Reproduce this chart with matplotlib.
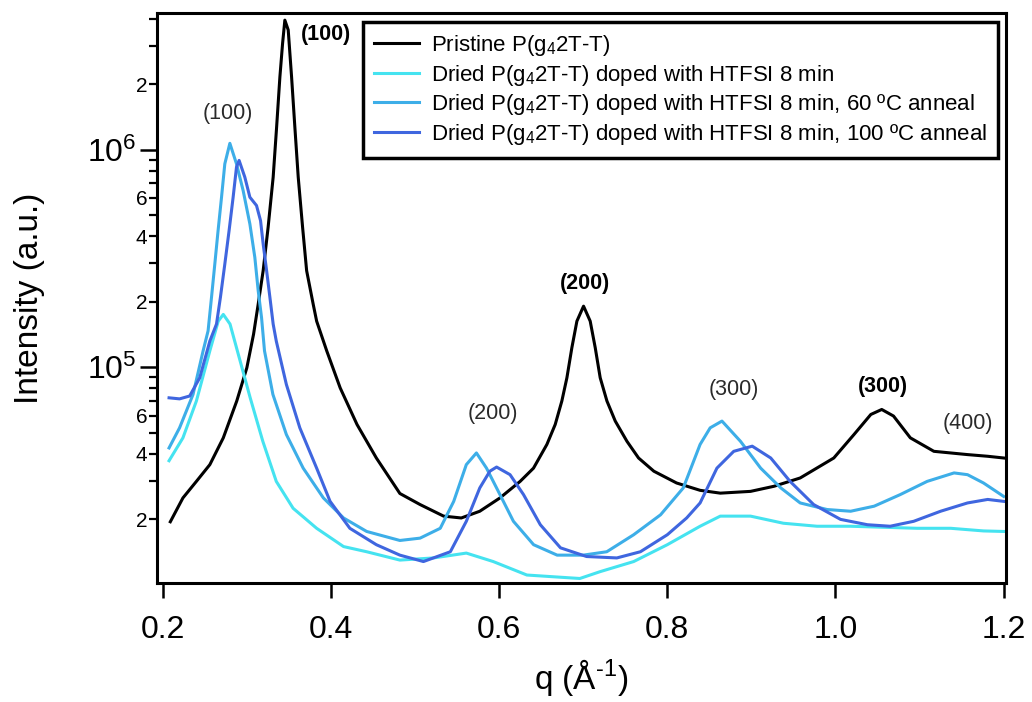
"""GIWAXS out-of-plane line cuts of P(g42T-T), pristine vs HTFSI-doped."""

import matplotlib

matplotlib.use("Agg")
import matplotlib.pyplot as plt
from matplotlib.ticker import FuncFormatter, LogLocator, FixedLocator

# ── data ─────────────────────────────────────────────────────────────────────
q_pristine = [0.209, 0.224, 0.240, 0.256, 0.272, 0.288, 0.300, 0.308, 0.3135, 0.3194,
              0.3253, 0.3313, 0.3354, 0.3393, 0.3425, 0.3452, 0.3492, 0.3532, 0.3571, 0.3611,
              0.3663, 0.3711, 0.3789, 0.383, 0.395, 0.411, 0.431, 0.454, 0.482, 0.506,
              0.534, 0.555, 0.577, 0.601, 0.625, 0.6409, 0.6568, 0.6667, 0.6746, 0.6806,
              0.6865, 0.6925, 0.7004, 0.7083, 0.7143, 0.7202, 0.7282, 0.7381, 0.7520, 0.7658,
              0.784, 0.811, 0.839, 0.863, 0.899, 0.927, 0.958, 0.998, 1.022, 1.042,
              1.055, 1.069, 1.089, 1.117, 1.157, 1.181, 1.200]
i_pristine = [1.95e4, 2.51e4, 2.99e4, 3.57e4, 4.74e4, 7.0e4, 9.95e4, 1.42e5, 1.95e5, 2.78e5,
              4.40e5, 7.48e5, 1.27e6, 2.16e6, 3.08e6, 3.94e6, 3.55e6, 2.16e6, 1.27e6, 7.48e5,
              4.40e5, 2.78e5, 1.95e5, 1.63e5, 1.19e5, 8.04e4, 5.46e4, 3.83e4, 2.63e4, 2.34e4,
              2.07e4, 2.03e4, 2.18e4, 2.51e4, 2.99e4, 3.44e4, 4.42e4, 5.46e4, 7.0e4, 8.95e4,
              1.23e5, 1.63e5, 1.91e5, 1.63e5, 1.23e5, 8.95e4, 7.0e4, 5.66e4, 4.57e4, 3.83e4,
              3.33e4, 2.94e4, 2.72e4, 2.64e4, 2.69e4, 2.84e4, 3.10e4, 3.83e4, 4.91e4, 6.07e4,
              6.40e4, 5.97e4, 4.74e4, 4.11e4, 3.97e4, 3.90e4, 3.83e4]

q_doped = [0.2075, 0.224, 0.240, 0.256, 0.266, 0.272, 0.280, 0.292, 0.304, 0.319,
           0.335, 0.355, 0.383, 0.415, 0.4425, 0.482, 0.522, 0.561, 0.593, 0.633,
           0.664, 0.696, 0.720, 0.760, 0.800, 0.839, 0.863, 0.899, 0.938, 0.978,
           1.018, 1.057, 1.097, 1.137, 1.176, 1.200]
i_doped = [3.72e4, 4.74e4, 7.00e4, 1.19e5, 1.63e5, 1.75e5, 1.58e5, 1.07e5, 7.24e4, 4.57e4,
           2.99e4, 2.25e4, 1.82e4, 1.50e4, 1.42e4, 1.30e4, 1.33e4, 1.40e4, 1.28e4, 1.11e4,
           1.09e4, 1.07e4, 1.15e4, 1.28e4, 1.53e4, 1.86e4, 2.07e4, 2.07e4, 1.92e4, 1.86e4,
           1.86e4, 1.84e4, 1.82e4, 1.82e4, 1.77e4, 1.76e4]

q_anneal60 = [0.2075, 0.220, 0.236, 0.248, 0.2539, 0.2580, 0.2619, 0.2658, 0.2699, 0.2738,
              0.2798, 0.2877, 0.2956, 0.3036, 0.3095, 0.3135, 0.3175, 0.321, 0.331, 0.347,
              0.367, 0.391, 0.415, 0.4425, 0.482, 0.506, 0.530, 0.546, 0.561, 0.573,
              0.585, 0.601, 0.617, 0.641, 0.669, 0.700, 0.728, 0.760, 0.792, 0.819,
              0.839, 0.851, 0.865, 0.887, 0.911, 0.935, 0.958, 0.990, 1.018, 1.046,
              1.077, 1.109, 1.141, 1.157, 1.176, 1.200]
i_anneal60 = [4.26e4, 5.27e4, 7.50e4, 1.19e5, 1.47e5, 2.10e5, 2.98e5, 4.25e5, 6.05e5, 8.61e5,
              1.07e6, 8.61e5, 6.49e5, 4.56e5, 3.20e5, 2.25e5, 1.69e5, 1.19e5, 7.50e4, 4.91e4,
              3.44e4, 2.51e4, 2.03e4, 1.76e4, 1.60e4, 1.64e4, 1.82e4, 2.42e4, 3.57e4, 4.04e4,
              3.44e4, 2.60e4, 1.96e4, 1.53e4, 1.37e4, 1.37e4, 1.42e4, 1.70e4, 2.10e4, 2.79e4,
              4.42e4, 5.27e4, 5.66e4, 4.57e4, 3.44e4, 2.79e4, 2.38e4, 2.22e4, 2.18e4, 2.30e4,
              2.60e4, 2.99e4, 3.27e4, 3.21e4, 2.94e4, 2.55e4]

q_anneal100 = [0.2075, 0.220, 0.232, 0.244, 0.256, 0.2639, 0.2686, 0.2738, 0.2789, 0.2837,
               0.2877, 0.2908, 0.2976, 0.3036, 0.3115, 0.3163, 0.3194, 0.3235, 0.3274, 0.3313,
               0.335, 0.347, 0.363, 0.383, 0.399, 0.4225, 0.454, 0.482, 0.510, 0.542,
               0.561, 0.577, 0.589, 0.597, 0.613, 0.629, 0.649, 0.673, 0.704, 0.740,
               0.768, 0.800, 0.823, 0.839, 0.859, 0.879, 0.901, 0.923, 0.946, 0.974,
               1.006, 1.038, 1.065, 1.093, 1.125, 1.157, 1.181, 1.200]
i_anneal100 = [7.24e4, 7.16e4, 7.38e4, 8.95e4, 1.32e5, 1.58e5, 2.10e5, 2.98e5, 4.25e5, 6.05e5,
               8.32e5, 8.93e5, 7.48e5, 6.05e5, 5.54e5, 4.72e5, 3.69e5, 2.78e5, 2.10e5, 1.58e5,
               1.32e5, 8.34e4, 5.27e4, 3.44e4, 2.42e4, 1.82e4, 1.53e4, 1.37e4, 1.28e4, 1.42e4,
               1.96e4, 2.79e4, 3.33e4, 3.48e4, 3.21e4, 2.60e4, 1.89e4, 1.48e4, 1.35e4, 1.33e4,
               1.42e4, 1.70e4, 2.03e4, 2.38e4, 3.44e4, 4.11e4, 4.34e4, 3.83e4, 2.99e4, 2.34e4,
               2.00e4, 1.89e4, 1.86e4, 1.96e4, 2.18e4, 2.38e4, 2.47e4, 2.42e4]

series_labels = [
    r"Pristine P(g$_4$2T-T)",
    r"Dried P(g$_4$2T-T) doped with HTFSI 8 min",
    r"Dried P(g$_4$2T-T) doped with HTFSI 8 min, 60 ºC anneal",
    r"Dried P(g$_4$2T-T) doped with HTFSI 8 min, 100 ºC anneal",
]
series_colors = ["#000000", "#45E3F0", "#3DAEE8", "#3F66DF"]

# peak index labels: (text, q, intensity, bold)
peak_text = ["(100)", "(100)", "(200)", "(200)", "(300)", "(300)", "(400)"]
peak_q = [0.394, 0.277, 0.702, 0.592, 0.879, 1.056, 1.157]
peak_i = [3.4e6, 1.47e6, 2.44e5, 6.15e4, 7.9e4, 8.2e4, 5.5e4]
peak_bold = [True, False, True, False, False, True, False]


def _decade(value):
    return int(f"{value:e}".split("e")[1])


def _minor_label(value, _pos):
    """Label only the 2, 4, 6 minor ticks of each decade (none above 3e6)."""
    if value > 3.5e6:
        return ""
    mant = value / 10 ** _decade(value)
    lead = int(round(mant))
    return str(lead) if lead in (2, 4, 6) and abs(mant - lead) < 1e-6 else ""


def _major_label(value, _pos):
    return rf"$10^{{{_decade(value)}}}$"


def main() -> None:
    plt.rcParams["font.family"] = ["Liberation Sans", "DejaVu Sans"]
    plt.rcParams["mathtext.fontset"] = "custom"
    plt.rcParams["mathtext.rm"] = "Liberation Sans"
    plt.rcParams["mathtext.it"] = "Liberation Sans:italic"
    plt.rcParams["mathtext.bf"] = "Liberation Sans:bold"

    fig = plt.figure(figsize=(10.32, 7.02), dpi=100)
    ax = fig.add_axes([0.152, 0.1695, 0.823, 0.812])

    curves = [
        (q_pristine, i_pristine),
        (q_doped, i_doped),
        (q_anneal60, i_anneal60),
        (q_anneal100, i_anneal100),
    ]
    for (q, inten), label, color in zip(curves, series_labels, series_colors):
        ax.plot(q, inten, color=color, lw=2.2, label=label)

    ax.set_yscale("log")
    ax.set_xlim(0.193, 1.203)
    ax.set_ylim(1.02e4, 4.25e6)

    ax.set_xticks([0.2, 0.4, 0.6, 0.8, 1.0, 1.2])
    ax.set_xticklabels(["0.2", "0.4", "0.6", "0.8", "1.0", "1.2"])
    ax.yaxis.set_major_locator(FixedLocator([1e5, 1e6]))
    ax.yaxis.set_major_formatter(FuncFormatter(_major_label))
    ax.yaxis.set_minor_locator(LogLocator(base=10, subs=range(2, 10)))
    ax.yaxis.set_minor_formatter(FuncFormatter(_minor_label))

    ax.tick_params(axis="x", which="major", direction="out", length=11, width=1.8,
                   labelsize=23, pad=12, top=False)
    ax.tick_params(axis="y", which="major", direction="out", length=12, width=1.8,
                   labelsize=23, pad=3, right=False)
    ax.tick_params(axis="y", which="minor", direction="out", length=6, width=1.6,
                   labelsize=15, pad=1, right=False)
    for spine in ax.spines.values():
        spine.set_linewidth(2.2)

    ax.set_xlabel(r"q (Å$^{\text{-}1}$)", fontsize=24, labelpad=9)
    ax.set_ylabel("Intensity (a.u.)", fontsize=24, labelpad=30)

    for text, q, inten, bold in zip(peak_text, peak_q, peak_i, peak_bold):
        ax.text(q, inten, text, ha="center", va="center", fontsize=15.5,
                fontweight="bold" if bold else "normal",
                color="#000000" if bold else "#2a2a2a")

    leg = ax.legend(loc="upper right", bbox_to_anchor=(0.9906, 0.984), borderaxespad=0,
                    fontsize=16, frameon=True, fancybox=False, framealpha=1,
                    edgecolor="black", handlelength=2.0, handletextpad=0.55,
                    labelspacing=0.2, borderpad=0.5)
    leg.get_frame().set_linewidth(2.5)

    fig.savefig("out.png", dpi=100)
    plt.close(fig)


if __name__ == "__main__":
    main()
